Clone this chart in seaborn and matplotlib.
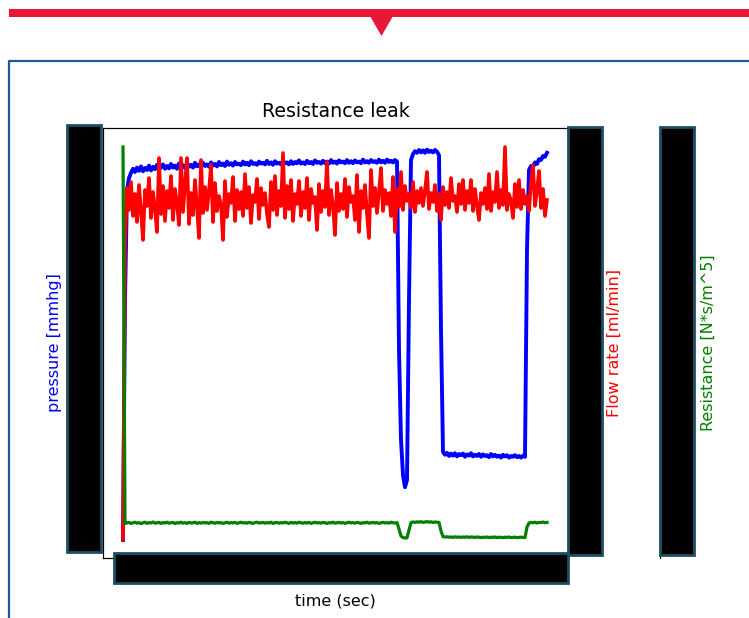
"""
Resistance leak recording: pressure, flow rate and resistance on three y axes.
"""

import numpy as np
import pandas as pd
import matplotlib.pyplot as plt
import seaborn as sns
from matplotlib.patches import Rectangle, Polygon
from matplotlib.lines import Line2D

# sample interval of the recording (sec)
SAMPLE_DT = 4.0

pressure_mmhg = [
    0.0, 60.0, 87.5, 90.5, 91.8, 92.8, 92.0, 93.1, 92.3, 93.4,
    92.2, 93.0, 92.5, 93.6, 92.4, 93.3, 92.7, 93.8, 92.6, 93.2,
    93.9, 92.8, 93.5, 92.9, 94.0, 93.1, 93.6, 92.8, 94.1, 93.2,
    93.7, 93.0, 94.2, 93.3, 93.8, 93.1, 94.3, 93.4, 93.9, 93.2,
    94.3, 93.5, 93.9, 93.3, 94.4, 93.6, 94.0, 93.4, 94.5, 93.7,
    94.1, 93.5, 94.6, 93.8, 94.2, 93.6, 94.5, 93.9, 94.1, 93.7,
    94.6, 93.9, 94.3, 93.7, 94.7, 94.0, 94.2, 93.8, 94.6, 94.1,
    94.3, 93.9, 94.8, 94.0, 94.4, 93.8, 94.7, 94.1, 94.3, 93.9,
    94.8, 94.2, 94.4, 93.9, 94.7, 94.0, 94.5, 94.2, 94.9, 94.1,
    94.4, 94.0, 94.8, 94.2, 94.5, 94.0, 94.9, 94.3, 94.5, 94.1,
    94.8, 94.2, 94.6, 94.1, 95.0, 94.3, 94.6, 94.1, 94.9, 94.4,
    94.6, 94.2, 95.0, 94.3, 94.7, 94.2, 94.9, 94.4, 94.6, 94.2,
    95.1, 94.4, 94.7, 94.3, 95.0, 94.5, 94.7, 94.3, 95.1, 94.4,
    94.8, 94.3, 95.1, 94.5, 94.8, 94.4, 95.0, 94.6, 47.5, 25.0,
    16.2, 13.2, 15.0, 60.0, 95.0, 96.5, 97.2, 96.8, 97.5, 96.9,
    97.4, 96.8, 97.6, 97.0, 97.3, 96.9, 97.5, 97.1, 96.2, 52.5,
    22.0, 21.3, 21.8, 21.0, 21.6, 21.1, 21.7, 20.9, 21.5, 21.2,
    21.6, 20.8, 21.4, 21.1, 21.7, 20.9, 21.3, 21.0, 21.5, 20.8,
    21.4, 21.0, 21.2, 20.7, 21.5, 20.9, 21.3, 20.8, 21.1, 20.6,
    21.3, 20.9, 21.2, 20.6, 21.0, 20.8, 21.2, 20.7, 21.0, 20.6,
    21.1, 20.8, 72.5, 92.5, 93.5, 93.2, 94.4, 94.0, 95.2, 95.0,
    96.0, 95.8, 96.8,
]

flow_ml_min = [
    0.0, 29.5, 35.2, 33.0, 35.8, 32.4, 34.6, 31.8, 35.5, 32.9,
    30.0, 35.0, 33.4, 36.2, 32.2, 34.8, 33.1, 30.8, 38.2, 32.6,
    35.4, 31.9, 34.9, 33.2, 36.4, 32.0, 35.1, 33.6, 31.5, 38.2,
    32.8, 35.6, 38.2, 31.6, 34.7, 32.5, 36.0, 33.3, 30.2, 38.0,
    32.7, 35.3, 33.0, 34.9, 37.5, 31.8, 35.7, 32.9, 34.4, 33.5,
    30.0, 35.9, 32.3, 34.6, 33.7, 36.3, 31.9, 35.0, 33.1, 34.8,
    32.4, 36.6, 33.2, 35.3, 31.7, 34.5, 33.8, 36.1, 32.1, 35.2,
    33.5, 34.7, 32.6, 31.3, 35.8, 33.0, 36.4, 32.5, 34.9, 33.4,
    38.7, 32.2, 35.4, 33.1, 36.0, 31.9, 34.6, 33.6, 35.9, 32.4,
    34.8, 33.2, 36.2, 32.0, 35.1, 33.7, 34.3, 31.0, 35.6, 32.8,
    34.9, 33.3, 37.8, 32.5, 35.0, 33.4, 30.5, 35.7, 32.9, 34.6,
    33.1, 36.1, 32.3, 35.3, 33.8, 34.4, 32.0, 36.5, 30.8, 34.9,
    33.2, 35.5, 32.6, 30.2, 37.0, 33.4, 35.2, 32.7, 34.8, 37.2,
    32.9, 35.0, 33.6, 34.7, 32.4, 36.3, 30.8, 35.1, 33.3, 36.8,
    33.0, 35.4, 33.9, 34.6, 33.2, 35.8, 32.8, 34.9, 33.7, 35.2,
    33.4, 35.0, 36.8, 33.1, 34.7, 33.8, 35.5, 32.9, 34.6, 32.0,
    35.3, 33.5, 34.8, 33.2, 36.2, 33.9, 34.4, 32.8, 35.6, 33.6,
    36.0, 33.0, 34.9, 33.7, 36.0, 32.9, 35.1, 33.4, 32.0, 34.7,
    33.6, 35.2, 33.1, 36.6, 32.9, 34.8, 33.8, 36.8, 33.2, 35.0,
    33.5, 39.3, 33.0, 34.6, 33.9, 32.2, 35.6, 33.3, 36.0, 33.1,
    35.0, 33.6, 34.4, 32.9, 35.7, 37.5, 33.4, 35.0, 36.9, 33.2,
    35.1, 32.4, 34.0,
]

resistance = [
    19.7, 0.88, 0.90, 0.93, 0.88, 0.91, 0.94, 0.89, 0.92, 0.87,
    0.91, 0.94, 0.88, 0.92, 0.90, 0.95, 0.89, 0.91, 0.93, 0.88,
    0.92, 0.90, 0.94, 0.89, 0.91, 0.93, 0.87, 0.92, 0.90, 0.94,
    0.89, 0.92, 0.88, 0.93, 0.90, 0.91, 0.94, 0.88, 0.92, 0.89,
    0.93, 0.90, 0.92, 0.88, 0.94, 0.91, 0.89, 0.93, 0.90, 0.92,
    0.88, 0.91, 0.94, 0.89, 0.92, 0.90, 0.93, 0.88, 0.91, 0.94,
    0.90, 0.92, 0.89, 0.93, 0.91, 0.88, 0.92, 0.94, 0.90, 0.91,
    0.93, 0.89, 0.92, 0.90, 0.94, 0.88, 0.91, 0.93, 0.89, 0.92,
    0.90, 0.94, 0.91, 0.88, 0.93, 0.90, 0.92, 0.89, 0.94, 0.91,
    0.89, 0.92, 0.90, 0.93, 0.88, 0.91, 0.94, 0.90, 0.92, 0.89,
    0.93, 0.91, 0.88, 0.92, 0.90, 0.94, 0.89, 0.91, 0.93, 0.90,
    0.92, 0.88, 0.91, 0.94, 0.90, 0.92, 0.89, 0.93, 0.91, 0.88,
    0.92, 0.90, 0.94, 0.89, 0.91, 0.93, 0.90, 0.92, 0.88, 0.91,
    0.93, 0.90, 0.92, 0.89, 0.94, 0.91, 0.90, 0.92, 0.60, 0.25,
    0.17, 0.15, 0.16, 0.55, 0.92, 0.95, 0.93, 0.96, 0.94, 0.97,
    0.93, 0.95, 0.97, 0.94, 0.96, 0.93, 0.95, 0.94, 0.93, 0.50,
    0.22, 0.20, 0.21, 0.19, 0.20, 0.18, 0.21, 0.19, 0.20, 0.18,
    0.20, 0.19, 0.21, 0.18, 0.20, 0.19, 0.18, 0.20, 0.19, 0.17,
    0.19, 0.18, 0.20, 0.17, 0.19, 0.18, 0.20, 0.17, 0.19, 0.18,
    0.17, 0.19, 0.18, 0.20, 0.17, 0.18, 0.19, 0.17, 0.18, 0.19,
    0.18, 0.17, 0.70, 0.90, 0.93, 0.91, 0.94, 0.90, 0.93, 0.92,
    0.95, 0.91, 0.93,
]

time_s = np.arange(len(flow_ml_min)) * SAMPLE_DT
df = pd.DataFrame({'time': time_s, 'pressure': pressure_mmhg,
                   'flow': flow_ml_min, 'resistance': resistance})

W, H = 749, 618
fig = plt.figure(figsize=(W / 100, H / 100), dpi=100)
fig.patch.set_facecolor('white')


def fx(px):
    return px / W


def fy(py):
    return 1 - py / H


# axes box in pixels: x 103..568, y 128..558
ax = fig.add_axes([fx(103), fy(558), (568 - 103) / W, (558 - 128) / H])
ax2 = ax.twinx()
ax3 = ax.twinx()
ax3.spines['right'].set_position(('axes', 1 + (660 - 568) / 465))

sns.lineplot(data=df, x='time', y='pressure', ax=ax, color='blue', lw=2.8)
sns.lineplot(data=df, x='time', y='flow', ax=ax2, color='red', lw=2.6)
sns.lineplot(data=df, x='time', y='resistance', ax=ax3, color='green', lw=2.3)

ax.set_xlim(-40, 890)
ax.set_ylim(-4.5, 103)
ax2.set_ylim(-1.8, 41.2)
ax3.set_ylim(-0.85, 20.65)

for a in (ax, ax2, ax3):
    a.tick_params(length=0, labelleft=False, labelright=False, labelbottom=False)
for s in ('left', 'top', 'bottom'):
    ax3.spines[s].set_visible(False)

ax.set_title('Resistance leak', fontsize=13.7, pad=8)
ax.set_xlabel('time (sec)', fontsize=11.5)
ax.xaxis.set_label_coords(0.5, -0.082)
ax.set_ylabel('pressure [mmhg]', color='blue', fontsize=11.5)
ax.yaxis.set_label_coords(-0.088, 0.5)
ax2.set_ylabel('Flow rate [ml/min]', color='red', fontsize=11.5)
ax2.yaxis.set_label_coords(1.084, 0.5)
ax3.set_ylabel('Resistance [N*s/m^5]', color='green', fontsize=11.5)
ax3.yaxis.set_label_coords(1.286, 0.5)

# black boxes over the tick labels
edge = '#1D4E63'
for x0, y0, x1, y1 in [(67, 125, 101, 552), (568, 127, 602, 555),
                       (660, 127, 694, 555), (114, 553, 568, 583)]:
    fig.add_artist(Rectangle((fx(x0), fy(y1)), (x1 - x0) / W, (y1 - y0) / H,
                             transform=fig.transFigure, facecolor='black',
                             edgecolor=edge, lw=2, zorder=5))

# page decoration: red bar with marker, blue frame
red = '#E8173A'
fig.add_artist(Rectangle((fx(9), fy(16.5)), (760 - 9) / W, 7.5 / H,
                         transform=fig.transFigure, facecolor=red,
                         edgecolor='none', zorder=5))
fig.add_artist(Polygon([(fx(370), fy(16)), (fx(393), fy(16)), (fx(381.5), fy(36))],
                       closed=True, transform=fig.transFigure, facecolor=red,
                       edgecolor='none', zorder=5))
fig.add_artist(Line2D([fx(8.5), fx(8.5), fx(760)], [fy(630), fy(61), fy(61)],
                      transform=fig.transFigure, color='#1F5A96', lw=1.6, zorder=5))

plt.savefig('out.png', dpi=100)
plt.close()
